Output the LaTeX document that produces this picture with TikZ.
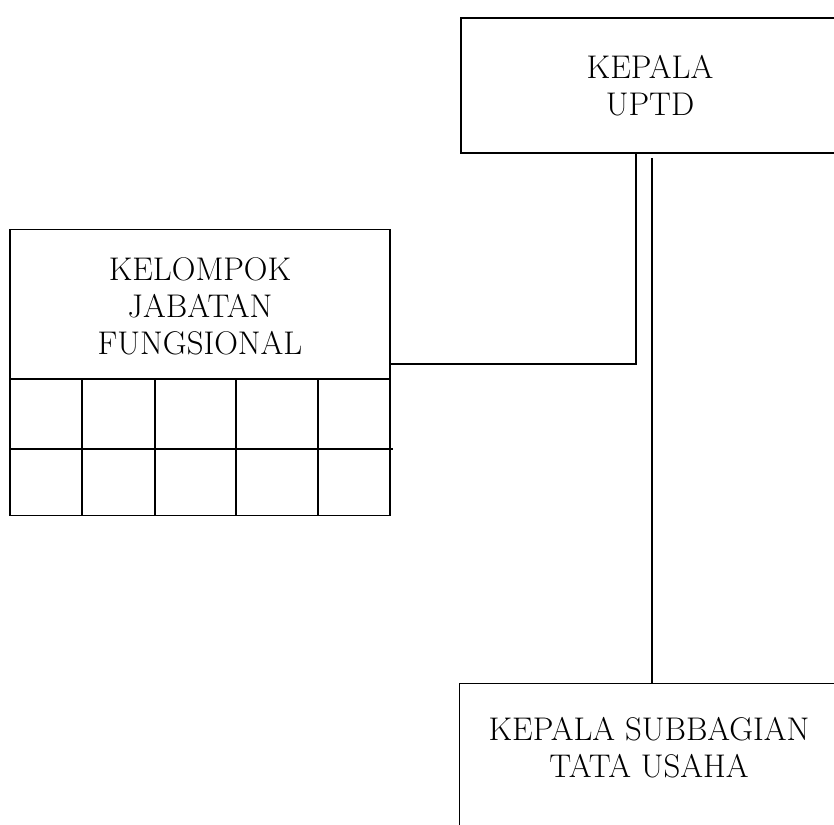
\documentclass[tikz,border=0pt]{standalone}
\usetikzlibrary{positioning}
\tikzset{
  unitbox/.style={draw, rectangle, inner sep=0pt},
  unittext/.style={align=center, font=\fontsize{28}{31.5}\selectfont},
}

\begin{document}
\begin{tikzpicture}[x=0.03cm, y=-0.03cm, line width=0.9pt]
\clip (0,0) rectangle (834,825);

% kepala uptd
\node[unitbox, unittext, minimum width=11.34cm, minimum height=4.05cm] (uptd) at (650,85.5) {KEPALA\\UPTD};

% kelompok jabatan fungsional
\node[unitbox, minimum width=11.4cm, minimum height=8.58cm] (kjf) at (200,372.5) {};
\node[unittext] (kjftitle) at (200,306.5) {KELOMPOK\\JABATAN\\FUNGSIONAL};
\coordinate (row1) at (10,379);
\coordinate (row2) at (10,449);
\draw (row1) -- (row1 -| kjf.east);
\draw (row2) -- ++(382.7,0);
\foreach \x in {82,155,236,318}
  \draw (\x,379) -- (\x,515.5);

% kepala subbagian tata usaha
\node[unitbox, minimum width=11.43cm, minimum height=5.4cm, anchor=north west] (tu) at (459,683) {};
\node[unittext] (tutext) at (649,748) {KEPALA SUBBAGIAN\\TATA USAHA};

% garis
\coordinate (bend) at (636,364);
\coordinate (drop) at (652,158);
\draw (uptd.south -| bend) -- (bend) -- (bend -| kjf.east);
\draw (drop) -- (drop |- tu.north);

\end{tikzpicture}
\end{document}
